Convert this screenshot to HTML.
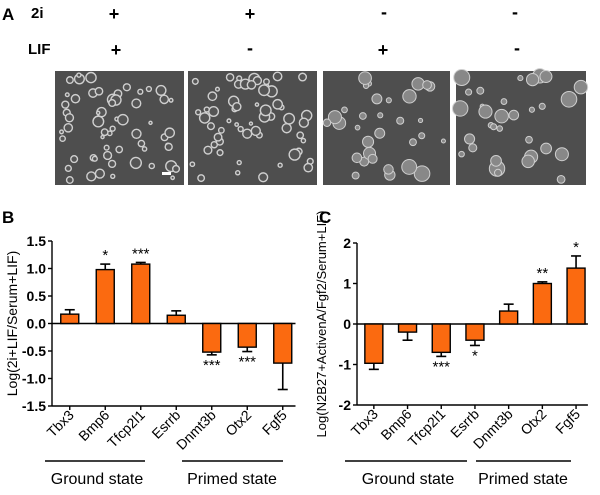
<!DOCTYPE html>
<html><head><meta charset="utf-8"><style>
body{margin:0;background:#fff;}
svg text{font-family:"Liberation Sans",Arial,sans-serif;}
</style></head><body>
<svg id="fig" width="600" height="490" viewBox="0 0 600 490" xmlns="http://www.w3.org/2000/svg">
<g font-weight="bold">
<text x="2" y="20" font-size="17">A</text>
<text x="31" y="18" font-size="15">2i</text>
<text x="28" y="54" font-size="15">LIF</text>
<g font-size="18" text-anchor="middle">
<text x="114" y="20">+</text><text x="250" y="20">+</text><text x="384" y="18">-</text><text x="515" y="18">-</text>
<text x="116" y="56">+</text><text x="250" y="54">-</text><text x="383" y="56">+</text><text x="517" y="54">-</text>
</g>
<g id="micro"></g>
</g>
<text x="2" y="223" font-size="17" font-weight="bold">B</text>
<text x="319" y="223" font-size="17" font-weight="bold">C</text>
<g id="chartB"></g>
<g id="chartC"></g>
</svg>
<script>
const genes = ["Tbx3","Bmp6","Tfcp2l1","Esrrb","Dnmt3b","Otx2","Fgf5"];
const valuesB = [0.17,0.98,1.08,0.15,-0.52,-0.43,-0.72];
const errorsB = [0.08,0.10,0.03,0.08,0.05,0.08,0.48];
const starsB = ["","*","***","","***","***",""];
const ticksB = [-1.5,-1.0,-0.5,0.0,0.5,1.0,1.5];
const valuesC = [-0.97,-0.2,-0.7,-0.4,0.32,1.0,1.38];
const errorsC = [0.15,0.2,0.1,0.13,0.17,0.04,0.3];
const starsC = ["","","***","*","","**","*"];
const ticksC = [-2,-1,0,1,2];
const NS="http://www.w3.org/2000/svg";
function mk(p,tag,at){const e=document.createElementNS(NS,tag);for(const k in at)e.setAttribute(k,at[k]);p.appendChild(e);return e;}

const micro=document.getElementById('micro');
const panelX=[55,188,323,456],panelW=[129,129,127,130];
let seed=7;function rnd(){seed=(seed*9301+49297)%233280;return seed/233280;}
panelX.forEach((px,i)=>{
  const g=mk(micro,'g',{});
  
  
  mk(g,'rect',{x:px,y:71,width:panelW[i],height:114,fill:'#4e4e4e'});
  const n=i<2?60:32;
  for(let k=0;k<n;k++){
    const r=i<2?(1.5+rnd()*4):(2+rnd()*6);
    mk(g,'circle',{cx:px+4+rnd()*(panelW[i]-8),cy:75+rnd()*106,r:r,fill:i<2?'#555':'#888',stroke:'#cfcfcf','stroke-width':i<2?1.4:1});
  }
  if(i===0)mk(g,'rect',{x:162,y:172,width:9,height:3,fill:'#fff'});
});

function chart(id,vals,errs,stars,ticks,ymin,ymax,top,bot,x0,step,yTitle,yTitleX,ytFont,groupLines,groupText,fmt){
  const root=document.getElementById(id);
  const y=v=>bot-(v-ymin)/(ymax-ymin)*(bot-top);
  const cx=i=>x0+step*(i+0.5);
  const ax=mk(root,'g',{});
  
  
  mk(ax,'line',{x1:x0,y1:top,x2:x0,y2:bot,stroke:'#000','stroke-width':1.4});
  ticks.forEach(t=>{
    mk(ax,'line',{x1:x0-4,y1:y(t),x2:x0,y2:y(t),stroke:'#000','stroke-width':1.4});
    const tx=mk(ax,'text',{x:x0-6,y:y(t)+5,'font-size':14,'font-weight':'bold','text-anchor':'end'});
    tx.textContent=fmt(t);
  });
  const tt=mk(root,'text',{x:0,y:0,'font-size':ytFont,'text-anchor':'middle',transform:`translate(${yTitleX},${(top+bot)/2}) rotate(-90)`});
  
  
  tt.textContent=yTitle;
  const zl=mk(root,'line',{x1:x0,y1:y(0),x2:x0+step*7-5,y2:y(0),stroke:'#000','stroke-width':1.4});
  
  
  mk(root,'line',{x1:x0,y1:bot,x2:x0+step*7-5,y2:bot,stroke:'#000','stroke-width':1.4});
  vals.forEach((v,i)=>{
    const g=mk(root,'g',{});
    
    
    const c=cx(i),w=18;
    const e=v>=0?v+errs[i]:v-errs[i];
    mk(g,'line',{x1:c,y1:y(v),x2:c,y2:y(e),stroke:'#000','stroke-width':1.6});
    mk(g,'line',{x1:c-5,y1:y(e),x2:c+5,y2:y(e),stroke:'#000','stroke-width':1.6});
    mk(g,'rect',{x:c-w/2,y:Math.min(y(v),y(0)),width:w,height:Math.abs(y(v)-y(0)),fill:'#fb6a10',stroke:'#000','stroke-width':1.4});
    if(stars[i]){
      const s=mk(g,'text',{x:c,y:v>=0?y(e)-4:y(e)+15,'font-size':15,'text-anchor':'middle'});
      s.textContent=stars[i];
    }
    mk(root,'line',{x1:c,y1:bot,x2:c,y2:bot+4,stroke:'#000','stroke-width':1.4});
    const lb=mk(root,'text',{x:0,y:0,'font-size':14,'text-anchor':'end',transform:`translate(${c+5},${bot+10}) rotate(-45)`});
    
    
    lb.textContent=genes[i];
  });
  ["Ground state","Primed state"].forEach((n,k)=>{
    const g=mk(root,'g',{});
    
    
    mk(g,'line',{x1:groupLines[k][0],y1:461,x2:groupLines[k][1],y2:461,stroke:'#000','stroke-width':1.4});
    const t=mk(g,'text',{x:groupText[k],y:484,'font-size':16,'text-anchor':'middle'});
    t.textContent=n;
  });
}
chart('chartB',valuesB,errorsB,starsB,ticksB,-1.5,1.5,241,406,52,35.5,"Log(2i+LIF/Serum+LIF)",17,14,[[45,145],[182,283]],[97,232],t=>t.toFixed(1));
chart('chartC',valuesC,errorsC,starsC,ticksC,-2,2,243,405,357,33.7,"Log(N2B27+ActivenA/Fgf2/Serum+LIF)",326,13,[[345,467],[476,571]],[408,523],t=>String(t));
</script>
</body></html>
